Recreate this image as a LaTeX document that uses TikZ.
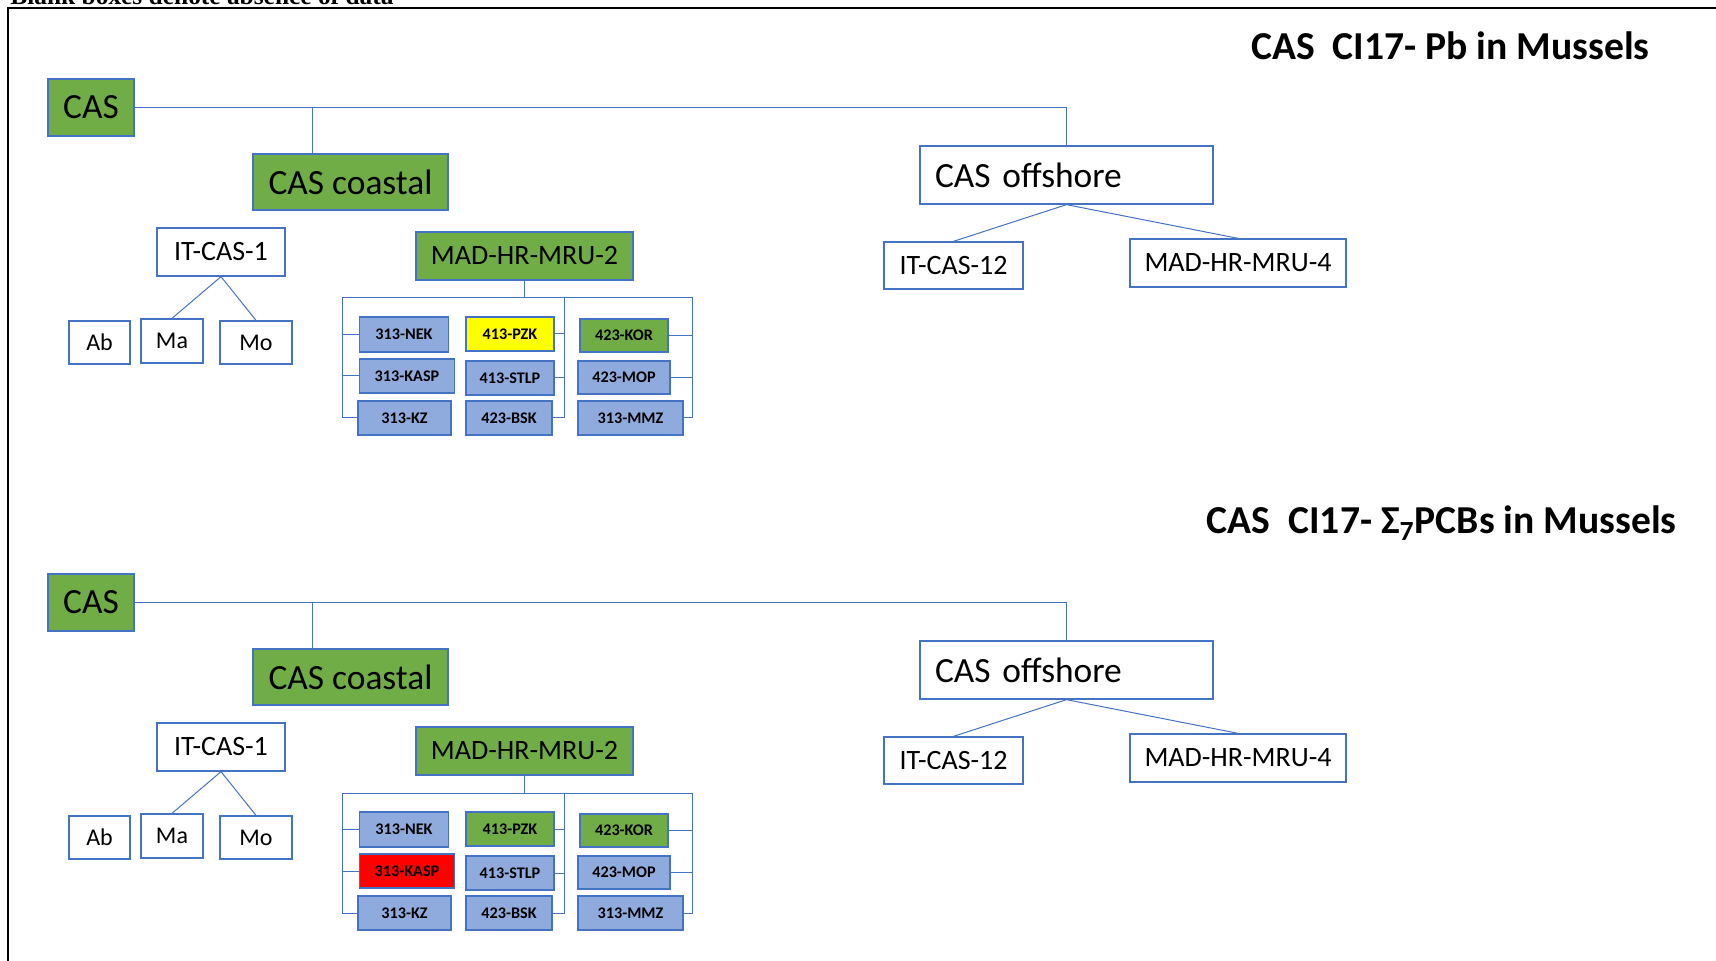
\documentclass[tikz,border=0pt]{standalone}
\usepackage{fontspec}
\setmainfont{Carlito}
\newfontfamily\notefont{Liberation Serif}
\usetikzlibrary{positioning,calc}
\definecolor{boxline}{RGB}{68,114,196}
\definecolor{leafgreen}{RGB}{112,173,71}
\definecolor{stationblue}{RGB}{143,170,220}
\definecolor{hiyellow}{RGB}{255,255,0}
\definecolor{hired}{RGB}{255,0,0}
\tikzset{
  box/.style={draw=boxline,line width=0.65pt,inner sep=0pt,fill=white},
  grn/.style={box,fill=leafgreen},
  stn/.style={box,fill=stationblue,font=\bfseries\fontsize{8.1}{9}\selectfont},
  wh/.style 2 args={minimum width=#1,minimum height=#2},
  big/.style={font=\fontsize{17.7}{20}\selectfont},
  mid/.style={font=\fontsize{14}{16}\selectfont},
  sml/.style={font=\fontsize{12}{14}\selectfont},
  link/.style={draw=boxline,line width=0.5pt},
  ttl/.style={anchor=east,inner sep=0pt,font=\bfseries\fontsize{19.8}{22}\selectfont},
}

\begin{document}
\begin{tikzpicture}[x=0.5pt,y=-0.5pt]
\useasboundingbox (0,0) rectangle (1716,961);
% frame, and the note cut off above it
\begin{scope}
\clip (0,0) rectangle (1716,961);
\draw[line width=1pt] (1720,8) -- (7.5,8) -- (7.5,965);
\node[anchor=base west,inner sep=0pt,font=\notefont\bfseries\fontsize{12.7}{14}\selectfont] (note) at (10,5) {Blank boxes denote absence of data};
\end{scope}
% titles
\node[ttl] (ttlpb) at (1650,46) {CAS\ \ CI17- Pb in Mussels};
\node[ttl] (ttlpcb) at (1677,523) {CAS\ \ CI17- Σ\textsubscript{7}PCBs in Mussels};
% two panels: a = Pb, b = PCBs
\foreach \p/\dy/\cpzk/\ckasp in {a/0/hiyellow/stationblue,b/495/leafgreen/hired}{
\begin{scope}[shift={(0,\dy)}]
\node[grn,big,wh={43pt}{28.5pt}] (\p cas) at (91,107.5) {CAS};
\node[grn,big,wh={97.5pt}{28pt}] (\p coast) at (350.5,182) {CAS coastal};
\node[box,big,wh={146.5pt}{29pt},text width=131.5pt,align=left] (\p off) at (1066.5,175) {CAS offshore};
\node[box,mid,wh={69.5pt}{23.5pt}] (\p it12) at (953.5,265.5) {IT-CAS-12};
\node[box,mid,wh={108pt}{24pt}] (\p mru4) at (1238,263) {MAD-HR-MRU-4};
\node[box,mid,wh={64pt}{24pt}] (\p it1) at (221,252) {IT-CAS-1};
\node[box,sml,wh={30.5pt}{21.5pt}] (\p ab) at (99.5,342.5) {Ab};
\node[box,sml,wh={31pt}{22pt}] (\p ma) at (172,341) {Ma};
\node[box,sml,wh={36pt}{21.5pt}] (\p mo) at (256,342.5) {Mo};
\node[grn,mid,wh={108.5pt}{24pt}] (\p mru2) at (524.5,256) {MAD-HR-MRU-2};
% stations
\node[stn,wh={44.3pt}{17.5pt}] (\p nek) at (404,334.5) {313-NEK};
\node[stn,fill=\ckasp,wh={47.3pt}{17pt}] (\p kasp) at (407,376) {313-KASP};
\node[stn,wh={46.5pt}{17pt}] (\p kz) at (404.5,418) {313-KZ};
\node[stn,fill=\cpzk,wh={44pt}{17pt}] (\p pzk) at (510,334) {413-PZK};
\node[stn,wh={44pt}{17pt}] (\p stlp) at (510,378) {413-STLP};
\node[stn,wh={43pt}{17pt}] (\p bsk) at (509,418) {423-BSK};
\node[stn,fill=leafgreen,wh={44pt}{16.5pt}] (\p kor) at (624,335.5) {423-KOR};
\node[stn,wh={46pt}{16.5pt}] (\p mop) at (624,377.5) {423-MOP};
\node[stn,wh={52.5pt}{17pt}] (\p mmz) at (630.5,418) {313-MMZ};
% links
\coordinate (\p cj) at ($(\p coast.north west)+(60,0)$);
\draw[link] (\p cas.east) -| (\p off.north);
\draw[link] (\p cj) -- (\p cj |- \p cas.east);
\draw[link] (\p off.south) -- (\p it12.north);
\draw[link] (\p off.south) -- (\p mru4.north);
\draw[link] (\p it1.south) -- (\p ma.north);
\draw[link] (\p it1.south) -- (\p mo.north);
% bracket under MAD-HR-MRU-2
\coordinate (\p bl) at (342,298);
\coordinate (\p bm) at (564,298);
\coordinate (\p br) at (692,298);
\draw[link] (\p mru2.south) -- (\p mru2.south |- \p bl);
\draw[link] (\p kz.west) -| (\p bl) -- (\p br) |- (\p mmz.east);
\draw[link] (\p bm) |- (\p bsk.east);
\foreach \s in {nek,kasp} \draw[link] (\p\s.west) -- (\p\s.west -| \p bl);
\foreach \s in {pzk,stlp} \draw[link] (\p\s.east) -- (\p\s.east -| \p bm);
\foreach \s in {kor,mop} \draw[link] (\p\s.east) -- (\p\s.east -| \p br);
\end{scope}
}
\end{tikzpicture}
\end{document}
